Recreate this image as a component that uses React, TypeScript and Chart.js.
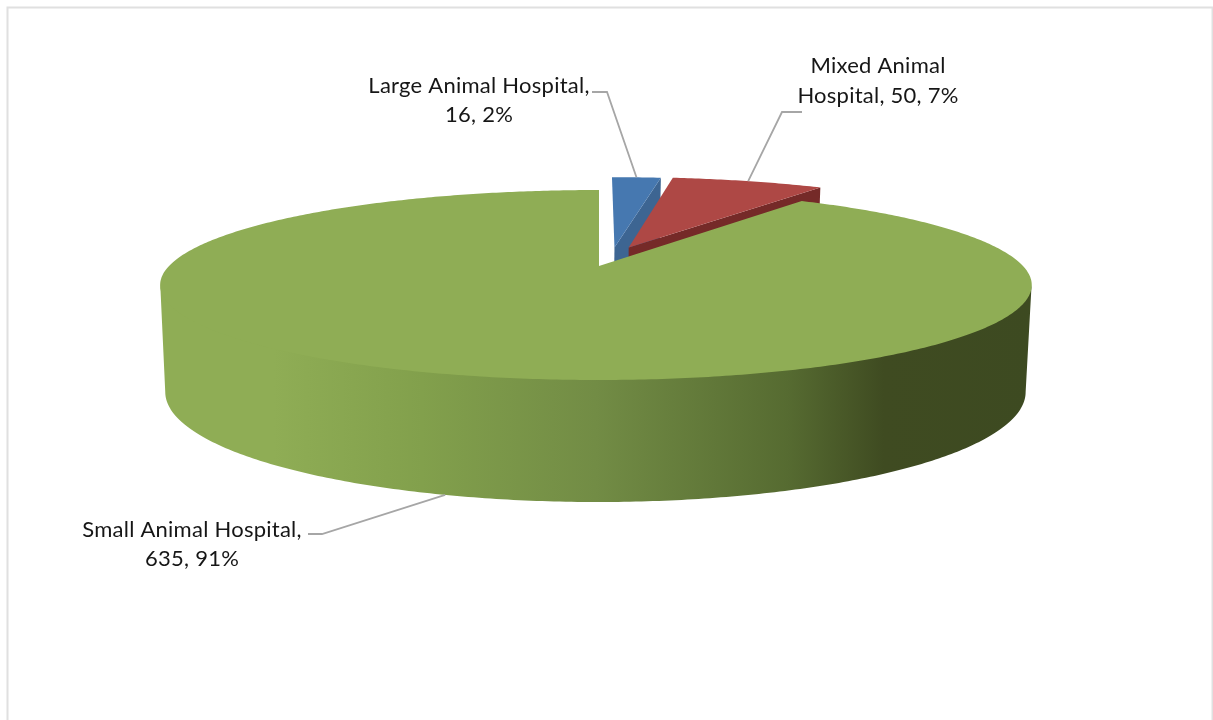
import React, { useEffect, useRef } from "react";
import { Chart, registerables } from "chart.js";

Chart.register(...registerables);

// Hospital types and their counts
const categories = ["Large Animal Hospital", "Mixed Animal Hospital", "Small Animal Hospital"];
const counts = [16, 50, 635];
const percents = ["2%", "7%", "91%"];

// Slice colours: top face, cut face
const topColors = ["#4678b0", "#ae4845", "#8fad55"];
const cutColors = ["#3d6592", "#752a28", "#5f7538"];

// Exploded slices move across the disk, in disk units
const explodeU = [0.038, 0.073, 0];
const explodeV = [0.21, 0.21, 0];

// Data label placement: text lines, centre x, line centre ys, elbow of the leader line
const labelLines = [
  ["Large Animal Hospital,", "16, 2%"],
  ["Mixed Animal", "Hospital, 50, 7%"],
  ["Small Animal Hospital,", "635, 91%"],
];
const labelX = [479, 878, 192];
const labelY = [[86, 115], [66, 96], [530, 559]];
const leaderStart = [[592, 92], [802, 112], [308, 534]];
const leaderElbow = [[607, 92], [782, 112], [322, 534]];

const FONT = '22px "Lato"';
const PERSPECTIVE = 0.2;

// A flat disk seen in perspective: u goes right, v goes away from the viewer
type Plane = { ax: number; ay: number; al: number; ar: number; b: number };
const topPlane: Plane = { ax: 599, ay: 266, al: 430, ar: 424, b: 91.2 };
const bottomPlane: Plane = { ax: 598, ay: 370, al: 424, ar: 419, b: 105.6 };

const project = (p: Plane, u: number, v: number): [number, number] => {
  const w = 1 + PERSPECTIVE * v;
  return [p.ax + (u < 0 ? p.al : p.ar) * (u / w), p.ay - (p.b * v) / w];
};

// Angles are clockwise from twelve o'clock
const rimPoint = (p: Plane, a: number, i: number) =>
  project(p, Math.sin(a) + explodeU[i], Math.cos(a) + explodeV[i]);

const pathOf = (ctx: CanvasRenderingContext2D, pts: [number, number][]) => {
  ctx.beginPath();
  pts.forEach(([x, y], k) => (k ? ctx.lineTo(x, y) : ctx.moveTo(x, y)));
  ctx.closePath();
};

const sampleAngles = (from: number, to: number) => {
  const n = Math.max(8, Math.ceil(Math.abs(to - from) * 90));
  return Array.from({ length: n + 1 }, (_, k) => from + ((to - from) * k) / n);
};

const pie3d = {
  id: "pie3d",
  beforeDraw(chart: Chart) {
    const { ctx } = chart;
    ctx.save();
    ctx.strokeStyle = "#e0e0e0";
    ctx.lineWidth = 2;
    ctx.strokeRect(7.5, 7.5, 1205, 730);
    ctx.restore();
  },
  // The arcs are painted here instead of by the stock element
  beforeDatasetDraw(chart: Chart) {
    const { ctx } = chart;
    const arcs = chart.getDatasetMeta(0).data as any[];
    ctx.save();
    arcs.forEach((arc, i) => {
      const start = arc.startAngle + Math.PI / 2;
      const end = arc.endAngle + Math.PI / 2;
      const apexTop = project(topPlane, explodeU[i], explodeV[i]);
      const apexBottom = project(bottomPlane, explodeU[i], explodeV[i]);

      // Cut face on the clockwise side, where it turns to the viewer
      if (Math.sin(end) > 1e-6) {
        ctx.fillStyle = cutColors[i];
        pathOf(ctx, [apexTop, rimPoint(topPlane, end, i), rimPoint(bottomPlane, end, i), apexBottom]);
        ctx.fill();
      }

      // Outer wall along the near half of the rim, tucked slightly under the top face
      const wallFrom = Math.max(start, Math.PI - Math.acos(PERSPECTIVE));
      const wallTo = Math.min(end, Math.PI + Math.acos(PERSPECTIVE));
      if (wallTo > wallFrom) {
        const angles = sampleAngles(wallFrom, wallTo);
        const pts: [number, number][] = [
          ...angles.map((a): [number, number] => {
            const [x, y] = rimPoint(topPlane, a, i);
            return [x, y - 3];
          }),
          ...angles.slice().reverse().map((a) => rimPoint(bottomPlane, a, i)),
        ];
        const g = ctx.createLinearGradient(160, 0, 1032, 0);
        g.addColorStop(0, "#8fad55");
        g.addColorStop(0.13, "#8fad55");
        g.addColorStop(0.3, "#82a04c");
        g.addColorStop(0.5, "#728c45");
        g.addColorStop(0.72, "#566b31");
        g.addColorStop(0.83, "#3f4b21");
        g.addColorStop(1, "#3d4a21");
        ctx.fillStyle = g;
        pathOf(ctx, pts);
        ctx.fill();
      }

      // Top face
      ctx.fillStyle = topColors[i];
      pathOf(ctx, [apexTop, ...sampleAngles(start, end).map((a) => rimPoint(topPlane, a, i))]);
      ctx.fill();
    });

    // Data labels with their leader lines
    ctx.strokeStyle = "#a6a6a6";
    ctx.lineWidth = 1.8;
    ctx.fillStyle = "#161616";
    ctx.font = FONT;
    (ctx as any).letterSpacing = "0.25px";
    ctx.textAlign = "center";
    ctx.textBaseline = "middle";
    arcs.forEach((arc, i) => {
      const mid = (arc.startAngle + arc.endAngle) / 2 + Math.PI / 2;
      const anchor = rimPoint(Math.cos(mid) < -PERSPECTIVE ? bottomPlane : topPlane, mid, i);
      ctx.beginPath();
      ctx.moveTo(leaderStart[i][0], leaderStart[i][1]);
      ctx.lineTo(leaderElbow[i][0], leaderElbow[i][1]);
      ctx.lineTo(anchor[0], anchor[1]);
      ctx.stroke();
      labelLines[i].forEach((t, k) => ctx.fillText(t, labelX[i], labelY[i][k]));
    });
    ctx.restore();
    return false;
  },
};

export default function App() {
  const ref = useRef<HTMLCanvasElement>(null);
  useEffect(() => {
    document.body.style.margin = "0";
    const chart = new Chart(ref.current!, {
      type: "pie",
      data: {
        labels: categories,
        datasets: [{ data: counts, backgroundColor: topColors, borderWidth: 0 }],
      },
      options: {
        animation: false,
        responsive: false,
        plugins: { legend: { display: false }, tooltip: { enabled: false } },
      },
      plugins: [pie3d as any],
    });
    return () => chart.destroy();
  }, []);
  return <canvas ref={ref} width={1213} height={720} style={{ display: "block" }} />;
}
